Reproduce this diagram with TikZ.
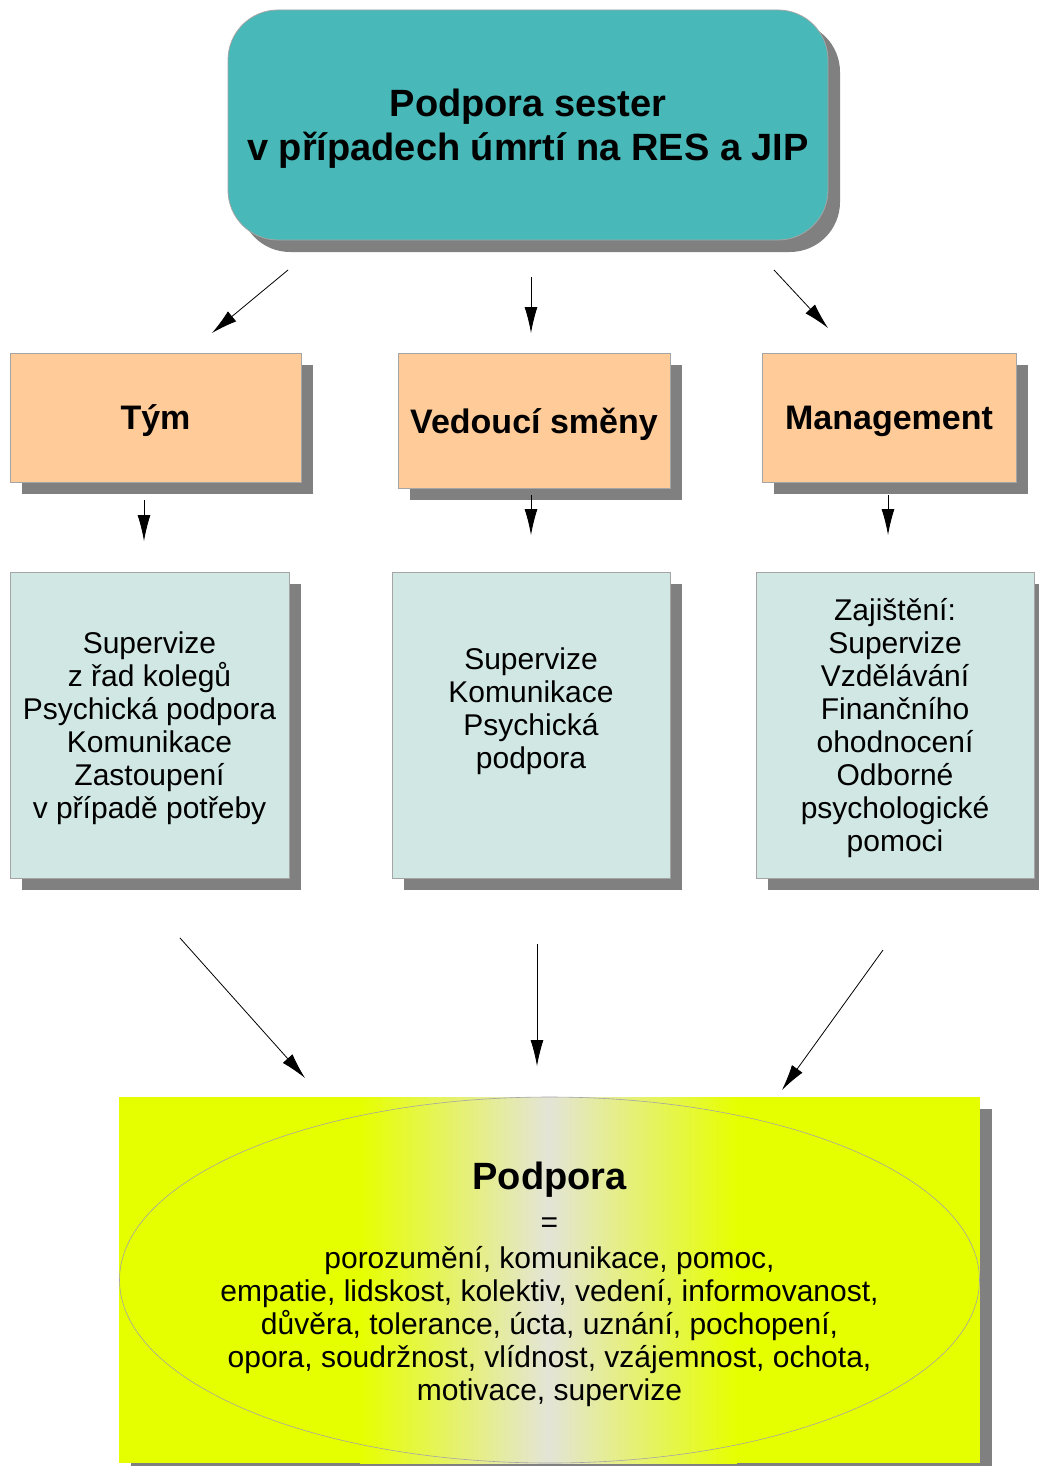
\documentclass[tikz,border=0pt]{standalone}
\usepackage{fontspec}
\setmainfont{Liberation Sans}
\usetikzlibrary{arrows.meta,shadows}

\definecolor{tealbox}{RGB}{72,184,184}
\definecolor{peach}{RGB}{255,204,153}
\definecolor{mint}{RGB}{208,231,227}
\definecolor{lemon}{RGB}{230,255,0}
\definecolor{shadowgray}{RGB}{128,128,128}
\definecolor{rim}{RGB}{165,165,165}

\tikzset{
  shad/.style={drop shadow={shadow xshift=12pt,shadow yshift=-12pt,fill=shadowgray,opacity=1}},
  head/.style={draw=rim,fill=peach,shad,inner sep=0pt,align=center,text depth=0pt,
    font=\fontsize{34}{40}\selectfont\bfseries},
  body/.style={draw=rim,fill=mint,shad,inner sep=0pt,align=center,text depth=0pt,
    font=\fontsize{30}{33}\selectfont},
}

\begin{document}
\begin{tikzpicture}[x=1pt,y=-1pt,>={Latex[length=26pt,width=13pt]},line width=0.8pt]
\useasboundingbox (0,0) rectangle (1038,1466);

\node[draw=rim,fill=tealbox,shad,rounded corners=50pt,inner sep=0pt,
  minimum width=600pt,minimum height=230pt,align=center,text depth=0pt,
  font=\fontsize{38}{44}\selectfont\bfseries] (title) at (528,125)
  {Podpora sester\\v případech úmrtí na RES a JIP};

\node[head,minimum width=291pt,minimum height=129pt] (tym) at (155.5,417.5) {Tým};
\node[head,minimum width=272pt,minimum height=135pt] (ved) at (534,420.5) {Vedoucí směny};
\node[head,minimum width=254pt,minimum height=129pt] (man) at (889,417.5) {Management};

\node[body,minimum width=279pt,minimum height=306pt] (tymtxt) at (149.5,725)
  {Supervize\\z řad kolegů\\Psychická podpora\\Komunikace\\Zastoupení\\v případě potřeby};
\node[body,minimum width=278pt,minimum height=306pt] (vedtxt) at (531,725)
  {Supervize\\Komunikace\\Psychická\\podpora\\\strut};
\node[body,minimum width=278pt,minimum height=306pt] (mantxt) at (895,725)
  {Zajištění:\\Supervize\\Vzdělávání\\Finančního\\ohodnocení\\Odborné\\psychologické\\pomoci};

\path[fill=lemon,shad] (119,1097) rectangle (980,1463);
\shade[left color=lemon,right color=lemon,middle color={rgb,255:red,228;green,228;blue,215}]
  (360,1097) rectangle (737,1463);
\draw[rim,line width=0.6pt] (549.5,1280) ellipse (430 and 183);
\node[align=center,inner sep=0pt,text depth=0pt,font=\fontsize{30}{33}\selectfont]
  (podpora) at (549.5,1281)
  {{\fontsize{38}{44}\selectfont\bfseries Podpora}\\[10pt]
   =\\[3pt]
   porozumění, komunikace, pomoc,\\
   empatie, lidskost, kolektiv, vedení, informovanost,\\
   důvěra, tolerance, úcta, uznání, pochopení,\\
   opora, soudržnost, vlídnost, vzájemnost, ochota,\\
   motivace, supervize};

\coordinate (a1) at (288,270);  \coordinate (b1) at (212,333);
\coordinate (a2) at (531,277);  \coordinate (b2) at (531,333);
\coordinate (a3) at (774,270);  \coordinate (b3) at (828,328);
\coordinate (a4) at (144,500);  \coordinate (b4) at (144,541);
\coordinate (a5) at (531,495);  \coordinate (b5) at (531,535);
\coordinate (a6) at (888,495);  \coordinate (b6) at (888,535);
\coordinate (a7) at (180,938);  \coordinate (b7) at (305,1078);
\coordinate (a8) at (537,944);  \coordinate (b8) at (537,1066);
\coordinate (a9) at (883,950);  \coordinate (b9) at (782,1090);

\draw[->] (a1) -- (b1);
\draw[->] (a2) -- (b2);
\draw[->] (a3) -- (b3);
\draw[->] (a4) -- (b4);
\draw[->] (a5) -- (b5);
\draw[->] (a6) -- (b6);
\draw[->] (a7) -- (b7);
\draw[->] (a8) -- (b8);
\draw[->] (a9) -- (b9);

\end{tikzpicture}
\end{document}
